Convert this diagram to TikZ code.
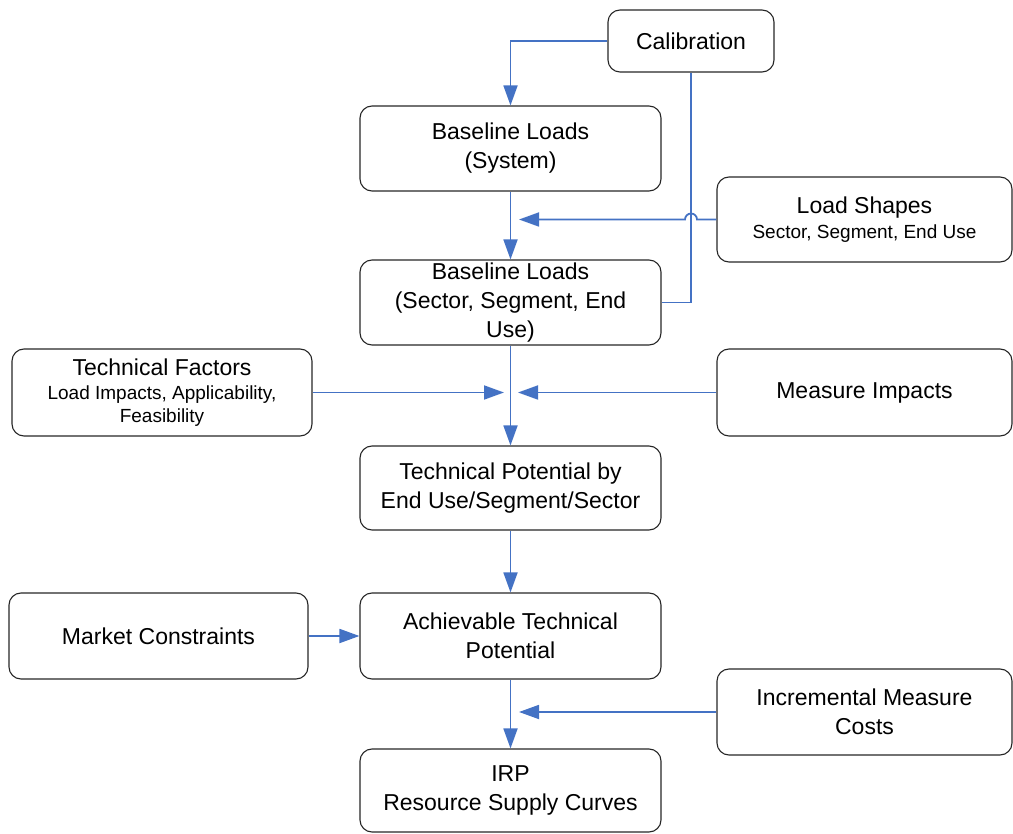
\documentclass[tikz,border=0pt]{standalone}
\usepackage{fontspec}
\setmainfont{Liberation Sans}
\usetikzlibrary{arrows.meta}
\definecolor{connblue}{HTML}{4472C4}
\newcommand\smallf{\fontsize{19}{23}\selectfont}
\begin{document}
\begin{tikzpicture}[x=1pt,y=-1pt,
  box/.style={draw=black!85, line width=1.1pt, rounded corners=12pt, align=center,
              font=\fontsize{23}{29}\selectfont, inner sep=0pt},
  link/.style={draw=connblue, line width=1.8pt},
  arr/.style={link, -{Triangle[length=20pt,width=14pt]}},
]
\useasboundingbox (0,0) rectangle (1013,834);

\node[box, minimum width=166pt, minimum height=62pt] (cal) at (691,41) {Calibration};
\node[box, minimum width=301pt, minimum height=85pt] (bls) at (510.5,148.5) {Baseline Loads\\(System)};
\node[box, minimum width=295pt, minimum height=85pt] (ls) at (864.5,219.5) {Load Shapes\\[-4pt]\smallf Sector, Segment, End Use};
\node[box, minimum width=301pt, minimum height=85pt] (bse) at (510.5,302.5) {Baseline Loads\\(Sector, Segment, End\\Use)};
\node[box, minimum width=300pt, minimum height=87pt] (tf) at (162,392.5) {Technical Factors\\[-5pt]\smallf Load Impacts, Applicability,\\[-6pt]\smallf Feasibility};
\node[box, minimum width=295pt, minimum height=87pt] (mi) at (864.5,392.5) {Measure Impacts};
\node[box, minimum width=301pt, minimum height=84pt] (tp) at (510.5,488) {Technical Potential by\\End Use/Segment/Sector};
\node[box, minimum width=299pt, minimum height=86pt] (mc) at (158.5,636) {Market Constraints};
\node[box, minimum width=301pt, minimum height=86pt] (ach) at (510.5,636) {Achievable Technical\\Potential};
\node[box, minimum width=295pt, minimum height=86pt] (inc) at (864.5,712) {Incremental Measure\\Costs};
\node[box, minimum width=301pt, minimum height=83pt] (irp) at (510.5,790.5) {IRP\\Resource Supply Curves};

\coordinate (lsEnd) at (519,219.5);
\coordinate (hopR) at (697,219.5);
\coordinate (tfEnd) at (504,392.5);
\coordinate (miEnd) at (518,392.5);
\coordinate (incEnd) at (519,712);

\draw[arr] (cal.west) -| (bls.north);
\draw[link] (cal.south) |- (bse.east);
\draw[arr] (bls.south) -- (bse.north);
\draw[arr] (ls.west) -- (hopR) arc[start angle=0, end angle=180, radius=6pt] -- (lsEnd);
\draw[arr] (bse.south) -- (tp.north);
\draw[arr] (tf.east) -- (tfEnd);
\draw[arr] (mi.west) -- (miEnd);
\draw[arr] (tp.south) -- (ach.north);
\draw[arr] (mc.east) -- (ach.west);
\draw[arr] (ach.south) -- (irp.north);
\draw[arr] (inc.west) -- (incEnd);
\end{tikzpicture}
\end{document}
